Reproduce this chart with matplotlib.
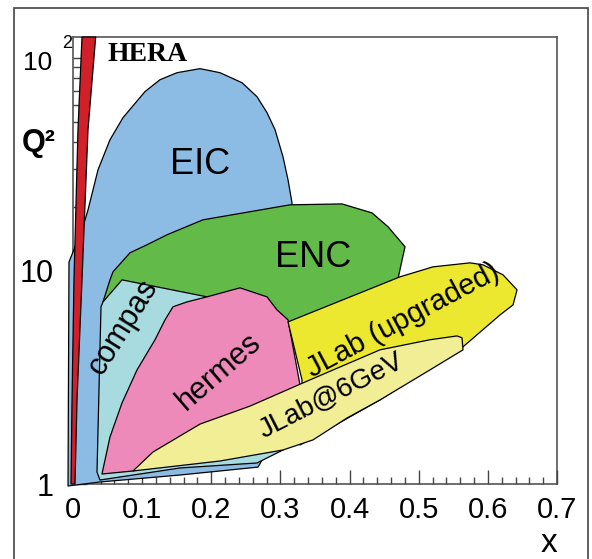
import matplotlib
matplotlib.use("Agg")
import matplotlib.pyplot as plt
from matplotlib.patches import Polygon, Rectangle
from matplotlib.ticker import MultipleLocator, FixedLocator, NullFormatter
import numpy as np

# ---------------- data (x, Q^2) ----------------
hera_x_right = [0.0328, 0.0217, 0.0130, 0.0058, 0.0029]
hera_x_left = [0.0130, 0.0072, 0.0014, -0.0014, -0.0029]
hera_q2 = [125, 45.9, 9.07, 2.48, 1.0]

eic_x = [-0.0072, -0.0058, 0.0145, 0.0217, 0.0362, 0.0535, 0.0723, 0.1041, 0.1258,
         0.1504, 0.1837, 0.2126, 0.2444, 0.2661, 0.2806, 0.2922, 0.3037, 0.3110,
         0.3167, 0.3167, 0.3110, 0.2777, 0.2676, 0.1548, 0.0390]
eic_q2 = [0.979, 11.0, 16.1, 19.3, 29.8, 41.2, 52.3, 69.3, 78.8,
          85.0, 88.8, 85.0, 76.3, 65.6, 55.2, 45.9, 34.3, 26.7,
          20.9, 11.3, 5.28, 1.37, 1.20, 1.102, 1.022]

enc_x = [0.0434, 0.0535, 0.0578, 0.0824, 0.1070, 0.1359, 0.1880, 0.3138, 0.3891,
         0.4324, 0.4556, 0.4802, 0.4700, 0.3210, 0.2415, 0.0824]
enc_q2 = [7.15, 9.07, 9.89, 12.15, 13.25, 14.76, 17.35, 20.4, 20.6,
          18.7, 16.1, 12.97, 9.17, 5.0, 6.21, 7.31]

compass_x = [0.0709, 0.1938, 0.2849, 0.3138, 0.3138, 0.3037, 0.2661, 0.1548, 0.0390,
             0.0347, 0.0405, 0.0434]
compass_q2 = [9.07, 7.55, 6.56, 2.48, 1.524, 1.444, 1.255, 1.189, 1.044,
              1.138, 6.78, 7.15]

hermes_x = [0.1938, 0.2415, 0.2806, 0.2950, 0.3110, 0.3283, 0.3283, 0.2560, 0.0868,
            0.0419, 0.0535, 0.0709, 0.0926, 0.1186, 0.1331, 0.1446, 0.1649]
hermes_q2 = [7.55, 8.32, 7.55, 6.56, 5.89, 2.92, 2.23, 2.00, 1.151,
             1.114, 1.662, 2.40, 3.43, 4.75, 5.89, 6.78, 7.15]

jlab12_x = [0.3110, 0.4729, 0.5207, 0.5742, 0.5930, 0.6219, 0.6422, 0.6364, 0.6176,
            0.5641, 0.4440, 0.3283, 0.3312]
jlab12_q2 = [5.76, 9.37, 10.44, 10.9, 10.67, 9.58, 8.14, 6.92, 6.21,
             4.40, 2.48, 1.524, 3.08]

jlab6_x = [0.0868, 0.1157, 0.1837, 0.2560, 0.3428, 0.4440, 0.5163, 0.5554, 0.5626,
           0.5641, 0.5163, 0.4440, 0.3963, 0.3471, 0.3037, 0.2126]
jlab6_q2 = [1.151, 1.413, 1.91, 2.32, 3.08, 4.26, 4.75, 4.95, 4.85,
            4.26, 3.43, 2.48, 2.04, 1.61, 1.444, 1.282]

x_ticks = [0.0, 0.1, 0.2, 0.3, 0.4, 0.5, 0.6, 0.7]
x_tick_labels = ["0", "0.1", "0.2", "0.3", "0.4", "0.5", "0.6", "0.7"]
y_ticks = [1, 10, 100]
y_tick_labels = ["1", "10", ""]

SANS = ["Liberation Sans", "DejaVu Sans"]

W, H = 592, 559
fig = plt.figure(figsize=(W / 100, H / 100), dpi=100)
L, R, T, B = 73, 557, 37, 484
ax = fig.add_axes([L / W, 1 - B / H, (R - L) / W, (B - T) / H])
ax.set_yscale("log")
ax.set_xlim(0, 0.7)
ax.set_ylim(1, 125)

lw = 0.9
def poly(xs, ys, color, z):
    p = Polygon(np.column_stack([xs, ys]), closed=True, facecolor=color,
                edgecolor="black", lw=lw, zorder=z, clip_on=False, joinstyle="round")
    ax.add_patch(p)

poly(eic_x, eic_q2, "#8cbbe4", 2)
poly(enc_x, enc_q2, "#62ba48", 3)
poly(compass_x, compass_q2, "#a8dbe0", 4)
poly(hermes_x, hermes_q2, "#ee8aba", 5)
poly(jlab12_x, jlab12_q2, "#ece830", 6)
poly(jlab6_x, jlab6_q2, "#f2ee96", 7)
poly(hera_x_right + hera_x_left[::-1], hera_q2 + hera_q2[::-1], "#d2202a", 8)

# labels
ax.text(0.0492, 103, "HERA", family=["Liberation Serif", "DejaVu Serif"], weight="bold",
        fontsize=20, ha="left", va="center", zorder=10)
ax.text(0.1837, 31.5, "EIC", family=SANS, fontsize=26, ha="center", va="center", zorder=10)
ax.text(0.3471, 11.5, "ENC", family=SANS, fontsize=26, ha="center", va="center", zorder=10)
ax.text(0.0723, 5.46, "compas", family=SANS, fontsize=22, rotation=58,
        rotation_mode="anchor", ha="center", va="center", zorder=10)
ax.text(0.2110, 3.36, "hermes", family=SANS, fontsize=22, rotation=41,
        rotation_mode="anchor", ha="center", va="center", zorder=10)
ax.text(0.4773, 5.83, "JLab (upgraded)", family=SANS, fontsize=21, rotation=28,
        rotation_mode="anchor", ha="center", va="center", zorder=10)
ax.text(0.3732, 2.58, "JLab@6GeV", family=SANS, fontsize=20, rotation=27,
        rotation_mode="anchor", ha="center", va="center", zorder=10)

# axes styling
for s in ax.spines.values():
    s.set_color("#555555")
    s.set_linewidth(1.2)
    s.set_zorder(1)

ax.xaxis.set_major_locator(FixedLocator(x_ticks))
ax.set_xticklabels(x_tick_labels, family=SANS, fontsize=21)
ax.xaxis.set_minor_locator(MultipleLocator(0.02))
ax.tick_params(axis="x", which="major", direction="in", length=10, width=1.0,
               color="#444444", pad=9, bottom=True, top=False)
ax.tick_params(axis="x", which="minor", direction="in", length=5, width=1.0,
               color="#444444", bottom=True, top=False)

ax.yaxis.set_major_locator(FixedLocator(y_ticks))
ax.set_yticklabels(y_tick_labels, family=SANS, fontsize=22)
minor_y = [k * d for d in (1, 10, 100) for k in range(2, 10)]
ax.yaxis.set_minor_locator(FixedLocator(minor_y))
ax.yaxis.set_minor_formatter(NullFormatter())
ax.tick_params(axis="y", which="major", direction="in", length=10, width=1.0,
               color="#444444", pad=14, left=True, right=False)
ax.tick_params(axis="y", which="minor", direction="in", length=6, width=1.0,
               color="#444444", left=True, right=False)

# 10^2 label
fig.text(38 / W, 1 - 63 / H, "10", family=SANS, fontsize=19, ha="center", va="center")
fig.text(67 / W, 1 - 44 / H, "2", family=SANS, fontsize=13, ha="center", va="center")

# axis titles
fig.text(39 / W, 1 - 143 / H, "Q²", family=SANS, weight="bold", fontsize=22,
         ha="center", va="center")
fig.text(549 / W, 1 - 544 / H, "x", family=SANS, fontsize=24, ha="center", va="center")

# outer frame
fig.add_artist(Rectangle((14 / W, -0.05), (588 - 14) / W, 1 - 8 / H + 0.05,
                         transform=fig.transFigure, fill=False, ec="#444444", lw=1.2))

fig.savefig("out.png", dpi=100)
